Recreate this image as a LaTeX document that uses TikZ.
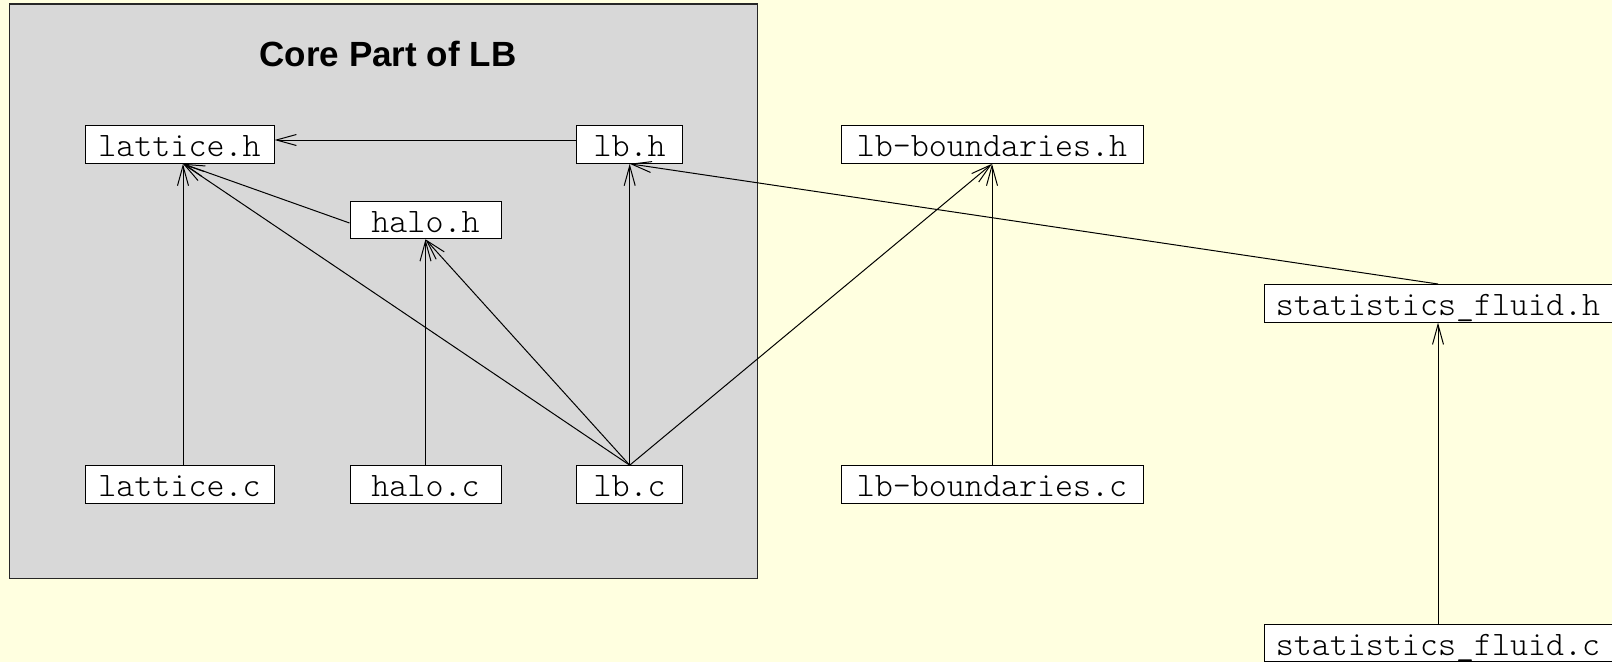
\documentclass[tikz,border=0pt]{standalone}
\usepackage{fontspec}
\setmainfont{Liberation Sans}
\newfontfamily\filefont{Latin Modern Mono Light}
\usetikzlibrary{arrows.meta}
\definecolor{pagebg}{HTML}{FFFFE0}
\definecolor{coregray}{HTML}{D8D8D8}
\begin{document}
\begin{tikzpicture}[x=1pt,y=-1pt,
  file/.style={draw=black, fill=white, line width=1pt, inner xsep=0pt, inner ysep=0pt,
    text height=31pt, text depth=6.6pt,
    font=\filefont\fontsize{34.3}{40}\selectfont},
  dep/.style={-{Straight Barb[length=20pt,width=11pt]}, line width=1pt, black}]
  % canvas
  \useasboundingbox (0,0) rectangle (1612,662);
  \clip (0,0) rectangle (1612,662);
  \fill[pagebg] (0,0) rectangle (1612,662);

  % cluster
  \draw[fill=coregray, draw=black!85, line width=1.3pt] (9.3,4.1) rectangle (757.7,578.8);
  \node[font=\bfseries\fontsize{35}{40}\selectfont] (title) at (388,53.5) {Core Part of LB};

  % files
  \node[file, minimum width=189pt] (lath)  at (179.5,144.5) {lattice.h};
  \node[file, minimum width=106pt] (lbh)   at (629.7,144.5) {lb.h};
  \node[file, minimum width=151pt] (haloh) at (425.5,220)   {halo.h};
  \node[file, minimum width=189pt] (latc)  at (179.5,484.5) {lattice.c};
  \node[file, minimum width=151pt] (haloc) at (425.5,484.5) {halo.c};
  \node[file, minimum width=106pt] (lbc)   at (629.7,484.5) {lb.c};
  \node[file, minimum width=302pt] (lbbh)  at (992,144.5)   {lb-boundaries.h};
  \node[file, minimum width=302pt] (lbbc)  at (992,484.5)   {lb-boundaries.c};
  \node[file, minimum width=348pt] (sfh)   at (1438,303.3)  {statistics\_fluid.h};
  \node[file, minimum width=348pt] (sfc)   at (1438,642.8)  {statistics\_fluid.c};

  % edge ports
  \coordinate (lathin) at ([xshift=3.5pt]lath.south);
  \coordinate (latcout) at ([xshift=3.5pt]latc.north);
  \coordinate (lathe) at ([yshift=4.5pt]lath.east);
  \coordinate (lbhw) at ([yshift=4.5pt]lbh.west);
  \coordinate (halohw) at ([yshift=-3pt]haloh.west);

  % dependencies
  \draw[dep] (lbhw) -- (lathe);
  \draw[dep] (halohw) -- (lathin);
  \draw[dep] (latcout) -- (lathin);
  \draw[dep] (lbc.north) -- (lathin);
  \draw[dep] (haloc.north) -- (haloh.south);
  \draw[dep] (lbc.north) -- (haloh.south);
  \draw[dep] (lbc.north) -- (lbh.south);
  \draw[dep] (lbc.north) -- (lbbh.south);
  \draw[dep] (lbbc.north) -- (lbbh.south);
  \draw[dep] (sfh.north) -- (lbh.south);
  \draw[dep] (sfc.north) -- (sfh.south);
\end{tikzpicture}
\end{document}
